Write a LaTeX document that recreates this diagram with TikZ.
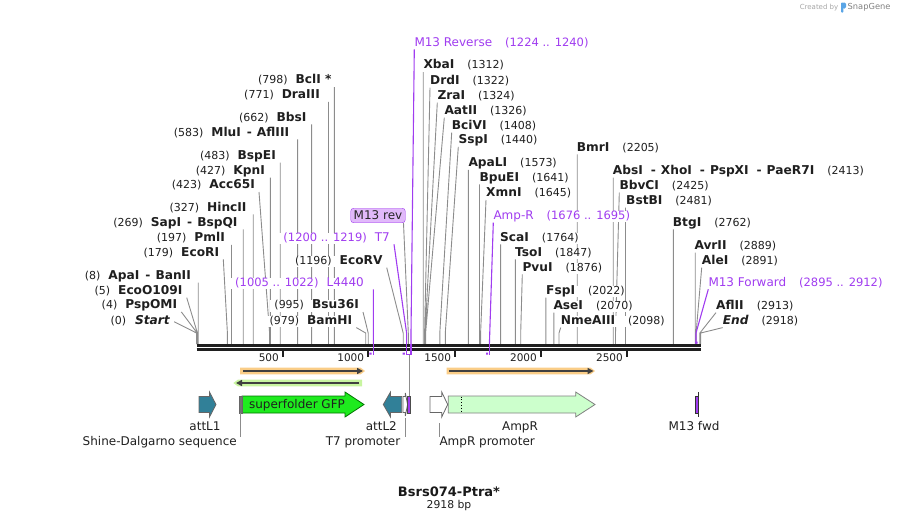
\documentclass[tikz,border=0pt]{standalone}
\usepackage{fontspec}
\setmainfont{DejaVu Sans}
\usepackage{tikz}
\usepackage{xcolor}
\usetikzlibrary{shapes, positioning, arrows.meta}

\definecolor{primer}{RGB}{160,60,240}
\definecolor{revfill}{RGB}{225,185,250}
\definecolor{attteal}{RGB}{49,128,152}
\definecolor{gfpgreen}{RGB}{30,235,30}
\definecolor{amprgreen}{RGB}{204,255,204}
\definecolor{orfband}{RGB}{250,205,135}
\definecolor{orfgreen}{RGB}{200,245,160}
\definecolor{snapblue}{RGB}{90,165,230}

\pgfdeclarelayer{bg}
\pgfsetlayers{bg,main}

\newcommand{\enz}[1]{{\fontsize{12.2}{14}\selectfont\bfseries #1}}
\newcommand{\cutsep}{\hspace{6pt}-\hspace{5pt}}

\begin{document}
\begin{tikzpicture}[x=1pt, y=-1pt,
        lft/.style={anchor=east, fill=white, inner xsep=4pt, inner ysep=0.5pt, text height=8pt, text depth=2.5pt,
            yshift=-1.65pt, font=\fontsize{11}{13}\selectfont, text=black!88},
        rgt/.style={lft, anchor=west, inner xsep=0pt},
        site/.style={draw=black!45, line width=0.9pt},
        prim/.style={draw=primer, line width=1.1pt},
        backbone/.style={draw=black!88, line width=2.7pt},
        tick/.style={draw=black!88, line width=2pt},
        scalelab/.style={anchor=east, inner sep=0pt, font=\fontsize{10.5}{12}\selectfont, text=black!88},
        featlab/.style={inner sep=0pt, text height=9pt, text depth=2.5pt, yshift=-1.2pt,
            font=\fontsize{12}{14}\selectfont, text=black!88},
        leader/.style={draw=black!45, line width=0.9pt},
        feat/.style={draw=black!60, line width=0.8pt},
        orfline/.style={draw=black!75, line width=1.8pt, -{Triangle[length=6pt,width=6pt]}}]
    \useasboundingbox (0,0) rectangle (898,523);

    \node[anchor=east, inner sep=0pt, font=\fontsize{7}{9}\selectfont, text=black!35] (made) at (838.5,7.5) {Created by};
    \fill[snapblue, rounded corners=0.8pt] (841,2.5) rectangle (843.4,12.5);
    \fill[snapblue, rounded corners=1.5pt] (842,2.5) rectangle (846,8.5);
    \node[anchor=west, inner sep=0pt, font=\fontsize{8.3}{10}\selectfont, text=black!50] (sg) at (847.5,7.5) {SnapGene};

    % backbone
    \coordinate (kink) at (0,333);
    \draw[backbone] (196.5,345.3) -- (700.7,345.3);
    \draw[backbone] (196.5,349.2) -- (700.7,349.2);

    % scale
    \coordinate (t500) at (282.7,349);
    \coordinate (t1000) at (368,349);
    \coordinate (t1500) at (455,349);
    \coordinate (t2000) at (541,349);
    \coordinate (t2500) at (626.7,349);
    \draw[tick] (t500) -- ++(0,8) (t1000) -- ++(0,8) (t1500) -- ++(0,8)
        (t2000) -- ++(0,8) (t2500) -- ++(0,8);
    \node[scalelab] at (279,357.5) {500};
    \node[scalelab] at (364.3,357.5) {1000};
    \node[scalelab] at (451.3,357.5) {1500};
    \node[scalelab] at (537,357.5) {2000};
    \node[scalelab] at (623,357.5) {2500};

    % sites on the backbone
    \coordinate (c0) at (196.5,344);
    \coordinate (c4) at (197.2,344);
    \coordinate (c5) at (197.4,344);
    \coordinate (c8) at (198.2,344);
    \coordinate (c179) at (227.4,344);
    \coordinate (c197) at (231.5,344);
    \coordinate (c269) at (243.2,344);
    \coordinate (c327) at (253.2,344);
    \coordinate (c423) at (269.6,344);
    \coordinate (c427) at (270.3,344);
    \coordinate (c483) at (280.2,344);
    \coordinate (c583) at (297.6,344);
    \coordinate (c662) at (311.6,344);
    \coordinate (c771) at (328.5,344);
    \coordinate (c798) at (334.3,344);
    \coordinate (c979) at (365.7,344);
    \coordinate (c995) at (368.2,344);
    \coordinate (c1196) at (403.2,344);
    \coordinate (c1312) at (423.2,344);
    \coordinate (c1322) at (424.6,344);
    \coordinate (c1324) at (425.1,344);
    \coordinate (c1326) at (425.6,344);
    \coordinate (c1408) at (439.8,344);
    \coordinate (c1440) at (445.3,344);
    \coordinate (c1573) at (468.3,344);
    \coordinate (c1641) at (479.5,344);
    \coordinate (c1645) at (480.6,344);
    \coordinate (c1764) at (500.6,344);
    \coordinate (c1847) at (515.3,344);
    \coordinate (c1876) at (520.7,344);
    \coordinate (c2022) at (545.9,344);
    \coordinate (c2070) at (553.8,344);
    \coordinate (c2098) at (559.0,344);
    \coordinate (c2205) at (577.2,344);
    \coordinate (c2413) at (613.2,344);
    \coordinate (c2425) at (615.5,344);
    \coordinate (c2481) at (625.5,344);
    \coordinate (c2762) at (673.3,344);
    \coordinate (c2889) at (695.2,344);
    \coordinate (c2891) at (696.1,344);
    \coordinate (c2913) at (699.9,344);
    \coordinate (c2918) at (700.7,344);
    \coordinate (pL4440) at (373.3,344);
    \coordinate (pT7) at (406.6,344);
    \coordinate (pRev) at (408.3,344);
    \coordinate (pM13r) at (411,344);
    \coordinate (pAmpR) at (489.4,344);
    \coordinate (pM13f) at (696,344);

    % labels left of their site
    \node[lft] (bcli) at (335.7,79.3) {(798)\hspace{8pt}\enz{BclI *}};
    \node[lft] (draiii) at (324,94.3) {(771)\hspace{8pt}\enz{DraIII}};
    \node[lft] (bbsi) at (310.7,116.7) {(662)\hspace{8pt}\enz{BbsI}};
    \node[lft] (mlui) at (293.3,131.7) {(583)\hspace{8pt}\enz{MluI\cutsep AflIII}};
    \node[lft] (bspei) at (280,155) {(483)\hspace{8pt}\enz{BspEI}};
    \node[lft] (kpni) at (269,170) {(427)\hspace{8pt}\enz{KpnI}};
    \node[lft] (acc) at (259,184.3) {(423)\hspace{8pt}\enz{Acc65I}};
    \node[lft] (hincii) at (250.7,206.7) {(327)\hspace{8pt}\enz{HincII}};
    \node[lft] (sapi) at (241.7,221.7) {(269)\hspace{8pt}\enz{SapI\cutsep BspQI}};
    \node[lft] (pmli) at (229,237.3) {(197)\hspace{8pt}\enz{PmlI}};
    \node[lft] (ecori) at (223.3,251.7) {(179)\hspace{8pt}\enz{EcoRI}};
    \node[lft] (apai) at (195,275) {(8)\hspace{8pt}\enz{ApaI\cutsep BanII}};
    \node[lft] (ecoo) at (186.7,290) {(5)\hspace{8pt}\enz{EcoO109I}};
    \node[lft] (pspomi) at (181.3,304.3) {(4)\hspace{8pt}\enz{PspOMI}};
    \node[lft] (start) at (174,320) {(0)\hspace{9pt}\enz{\itshape Start}};
    \node[lft] (ecorv) at (386.7,260) {(1196)\hspace{8pt}\enz{EcoRV}};
    \node[lft] (bsu) at (363,304.3) {(995)\hspace{8pt}\enz{Bsu36I}};
    \node[lft] (bamhi) at (356.3,320) {(979)\hspace{8pt}\enz{BamHI}};
    \node[lft, text=primer, font=\fontsize{11.5}{13}\selectfont] (l4440) at (368,281.7) {(1005 .. 1022)\hspace{8pt}{\fontsize{12}{14}\selectfont L4440}};
    \node[lft, text=primer, font=\fontsize{11.5}{13}\selectfont] (t7) at (394,236.7) {(1200 .. 1219)\hspace{8pt}{\fontsize{12}{14}\selectfont T7}};

    % labels right of their site
    \node[rgt, text=primer, font=\fontsize{11.5}{13}\selectfont] (m13r) at (414.3,41.7) {{\fontsize{12}{14}\selectfont M13 Reverse}\hspace{13pt}(1224 .. 1240)};
    \node[rgt] (xbai) at (423.3,64.5) {\enz{XbaI}\hspace{13pt}(1312)};
    \node[rgt] (drdi) at (430,80) {\enz{DrdI}\hspace{13pt}(1322)};
    \node[rgt] (zrai) at (437.3,95) {\enz{ZraI}\hspace{13pt}(1324)};
    \node[rgt] (aatii) at (444.3,110) {\enz{AatII}\hspace{13pt}(1326)};
    \node[rgt] (bcivi) at (451.7,125) {\enz{BciVI}\hspace{13pt}(1408)};
    \node[rgt] (sspi) at (458.3,139.3) {\enz{SspI}\hspace{13pt}(1440)};
    \node[rgt] (apali) at (468.3,162.3) {\enz{ApaLI}\hspace{13pt}(1573)};
    \node[rgt] (bpuei) at (479.3,176.7) {\enz{BpuEI}\hspace{13pt}(1641)};
    \node[rgt] (xmni) at (486,192.3) {\enz{XmnI}\hspace{13pt}(1645)};
    \node[rgt, text=primer, font=\fontsize{11.5}{13}\selectfont] (ampr) at (493.3,215) {{\fontsize{12}{14}\selectfont Amp-R}\hspace{13pt}(1676 .. 1695)};
    \node[rgt] (scai) at (500,236.7) {\enz{ScaI}\hspace{13pt}(1764)};
    \node[rgt] (tsoi) at (515,251.7) {\enz{TsoI}\hspace{13pt}(1847)};
    \node[rgt] (pvui) at (522.3,266.7) {\enz{PvuI}\hspace{13pt}(1876)};
    \node[rgt] (fspi) at (546,290) {\enz{FspI}\hspace{13pt}(2022)};
    \node[rgt] (asei) at (553.3,305) {\enz{AseI}\hspace{13pt}(2070)};
    \node[rgt] (nmeaiii) at (560.7,320) {\enz{NmeAIII}\hspace{13pt}(2098)};
    \node[rgt] (bmri) at (576.7,146.7) {\enz{BmrI}\hspace{13pt}(2205)};
    \node[rgt] (absi) at (612.7,170) {\enz{AbsI\hspace{8pt}-\hspace{5pt}XhoI\hspace{8pt}-\hspace{5pt}PspXI\hspace{8pt}-\hspace{5pt}PaeR7I}\hspace{13pt}(2413)};
    \node[rgt] (bbvci) at (619.3,185) {\enz{BbvCI}\hspace{13pt}(2425)};
    \node[rgt] (bstbi) at (626,200) {\enz{BstBI}\hspace{13pt}(2481)};
    \node[rgt] (btgi) at (672.7,221.7) {\enz{BtgI}\hspace{13pt}(2762)};
    \node[rgt] (avrii) at (694.3,245) {\enz{AvrII}\hspace{13pt}(2889)};
    \node[rgt] (alei) at (701.7,260) {\enz{AleI}\hspace{13pt}(2891)};
    \node[rgt, text=primer, font=\fontsize{11.5}{13}\selectfont] (m13f) at (708.3,281.7) {{\fontsize{12}{14}\selectfont M13 Forward}\hspace{13pt}(2895 .. 2912)};
    \node[rgt] (aflii) at (716,305) {\enz{AflII}\hspace{13pt}(2913)};
    \node[rgt] (fin) at (722.7,320) {\enz{\itshape End}\hspace{13pt}(2918)};

    \node[draw=primer, fill=revfill, rounded corners=3pt, inner xsep=3pt, inner ysep=0pt, minimum height=14.5pt,
        font=\fontsize{12}{14}\selectfont, text=black!85] (m13rev) at (378,215.5) {M13 rev};

    % cut site lines, behind the labels
    \begin{pgfonlayer}{bg}
    \draw[site] (c798 |- bcli.south) -- (c798)
        (c771 |- draiii.south) -- (c771)
        (c662 |- bbsi.south) -- (c662)
        (c583 |- mlui.south) -- (c583)
        (c483 |- bspei.south) -- (c483)
        (c427 |- kpni.south) -- (c427)
        (acc.south east) -- (c423 |- kink) -- (c423)
        (c327 |- hincii.south) -- (c327)
        (c269 |- sapi.south) -- (c269)
        (c197 |- pmli.south) -- (c197)
        (ecori.south east) -- (c179 |- kink) -- (c179)
        (c8 |- apai.south) -- (c8)
        (ecoo.south east) -- (c5 |- kink) -- (c5)
        (pspomi.south east) -- (c4 |- kink) -- (c4)
        (start.east) -- (c0 |- kink) -- (c0)
        (ecorv.south east) -- (c1196 |- kink) -- (c1196)
        (bsu.south east) -- (c995 |- kink) -- (c995)
        (bamhi.south east) -- (c979 |- kink) -- (c979)
        ([xshift=-2pt]m13rev.south east) -- (pRev |- kink) -- (pRev);
    \draw[site] (c1312 |- xbai.south) -- (c1312)
        (drdi.south west) -- (c1322 |- kink) -- (c1322)
        (zrai.south west) -- (c1324 |- kink) -- (c1324)
        (aatii.south west) -- (c1326 |- kink) -- (c1326)
        (bcivi.south west) -- (c1408 |- kink) -- (c1408)
        (sspi.south west) -- (c1440 |- kink) -- (c1440)
        (c1573 |- apali.south) -- (c1573)
        (c1641 |- bpuei.south) -- (c1641)
        (xmni.south west) -- (c1645 |- kink) -- (c1645)
        (c1764 |- scai.south) -- (c1764)
        (c1847 |- tsoi.south) -- (c1847)
        (pvui.south west) -- (c1876 |- kink) -- (c1876)
        (c2022 |- fspi.south) -- (c2022)
        (c2070 |- asei.south) -- (c2070)
        (nmeaiii.south west) -- (c2098 |- kink) -- (c2098)
        (c2205 |- bmri.south) -- (c2205)
        (c2413 |- absi.south) -- (c2413)
        (bbvci.south west) -- (c2425 |- kink) -- (c2425)
        (c2481 |- bstbi.south) -- (c2481)
        (c2762 |- btgi.south) -- (c2762)
        (c2889 |- avrii.south) -- (c2889)
        (alei.south west) -- (c2891 |- kink) -- (c2891)
        (aflii.south west) -- (c2913 |- kink) -- (c2913)
        (fin.south west) -- (c2918 |- kink) -- (c2918);

    % primer lines
    \draw[prim] (m13r.south west) -- (pM13r |- kink) -- (pM13r)
        (t7.south east) -- (pT7 |- kink) -- (pT7)
        (pL4440 |- l4440.south) -- (pL4440)
        (ampr.south west) -- (pAmpR)
        (m13f.south west) -- (pM13f |- kink) -- (pM13f);
    \end{pgfonlayer}
    \draw[prim] (373.3,344) -- (373.3,354.5)
        (406.6,344) -- (406.6,354.5) -- (411,354.5) -- (411,344)
        (489.4,344) -- (489.4,354.5);
    \fill[primer] (369.3,352.5) rectangle (371.5,354.7)
        (402.6,352.5) rectangle (404.8,354.7)
        (486,352.5) rectangle (488.2,354.7)
        (695.4,341.5) rectangle (697.6,343.5);

    % ORFs
    \fill[orfband] (240,367.6) -- (360.5,367.6) -- (365,371) -- (360.5,374.4) -- (240,374.4) -- cycle;
    \draw[orfline] (243,371) -- (363,371);
    \fill[orfgreen] (362,379.6) -- (238,379.6) -- (233.3,383) -- (238,386.4) -- (362,386.4) -- cycle;
    \draw[orfline] (359,383) -- (236,383);
    \fill[orfband] (446.5,367.6) -- (590.5,367.6) -- (595,371) -- (590.5,374.4) -- (446.5,374.4) -- cycle;
    \draw[orfline] (449,371) -- (593.5,371);

    % features
    \draw[feat, fill=attteal] (199,396.5) -- (209.5,396.5) -- (209.5,392) -- (216,404.5) -- (209.5,417)
        -- (209.5,412.5) -- (199,412.5) -- cycle;
    \draw[feat, draw=green!45!black, fill=gfpgreen] (242,396) -- (345,396) -- (345,392) -- (364,404.5)
        -- (345,417) -- (345,413) -- (242,413) -- cycle;
    \node[draw=black!60, fill=black!55, line width=0.6pt, minimum width=2.7pt, minimum height=17pt, inner sep=0pt] (sd) at (240.6,404.5) {};
    \node[featlab] (gfplab) at (297,404.5) {superfolder GFP};
    \draw[feat, fill=attteal] (401.7,396.5) -- (390.5,396.5) -- (390.5,392) -- (383.3,404.5) -- (390.5,417)
        -- (390.5,412.5) -- (401.7,412.5) -- cycle;
    \draw[feat, fill=white] (403,396.5) -- (405.3,396.5) -- (405.3,393) -- (407.6,404.5) -- (405.3,416)
        -- (405.3,412.5) -- (403,412.5) -- cycle;
    \node[draw=black!70, fill=primer, line width=0.6pt, minimum width=3pt, minimum height=17pt, inner sep=0pt] (revfeat) at (409.2,404.5) {};
    \coordinate (lowrev) at (409.2,355);
    \draw[leader] (lowrev) -- (revfeat.north);
    \draw[feat, fill=white] (430,396.5) -- (441.7,396.5) -- (441.7,392) -- (447.7,404.5) -- (441.7,417)
        -- (441.7,412.5) -- (430,412.5) -- cycle;
    \draw[feat, draw=black!50, fill=amprgreen] (448.3,396) -- (575.7,396) -- (575.7,392) -- (595,404.5)
        -- (575.7,417) -- (575.7,413) -- (448.3,413) -- cycle;
    \draw[black, line width=0.8pt, dotted] (461,396.5) -- (461,412.5);
    \node[draw=black!80, fill=primer, line width=0.5pt, minimum width=2.6pt, minimum height=16.5pt, inner sep=0pt] (fwdfeat) at (696.7,404.5) {};
    \draw[black!80, line width=0.8pt] (fwdfeat.north east) -- ++(0,-4) (fwdfeat.south east) -- ++(0,4);

    % feature labels
    \coordinate (t7pro) at (405.7,413);
    \coordinate (amppro) at (439.3,413);
    \node[featlab] (attl1lab) at (205,426) {attL1};
    \node[featlab, anchor=east] (sdlab) at (237,441.5) {Shine-Dalgarno sequence};
    \node[featlab] (attl2lab) at (381.3,426) {attL2};
    \node[featlab, anchor=east] (t7plab) at (400.5,441.5) {T7 promoter};
    \node[featlab, anchor=west] (appab) at (439.3,441.5) {AmpR promoter};
    \node[featlab] (amprlab) at (520,426) {AmpR};
    \node[featlab] (fwdlab) at (694,426) {M13 fwd};
    \draw[leader, shorten <=5pt] (sd.south) -- (sd.south |- sdlab.north)
        (t7pro) ++(0,5) -- (t7pro |- t7plab.north)
        (amppro) ++(0,5) -- (amppro |- appab.north);

    % title
    \node[inner sep=0pt, font=\fontsize{13}{15}\selectfont\bfseries, text=black!90] (title) at (449,492) {Bsrs074-Ptra*};
    \node[below=3pt of title, inner sep=0pt, font=\fontsize{10.8}{12}\selectfont, text=black!88] (size) {2918 bp};
\end{tikzpicture}
\end{document}
